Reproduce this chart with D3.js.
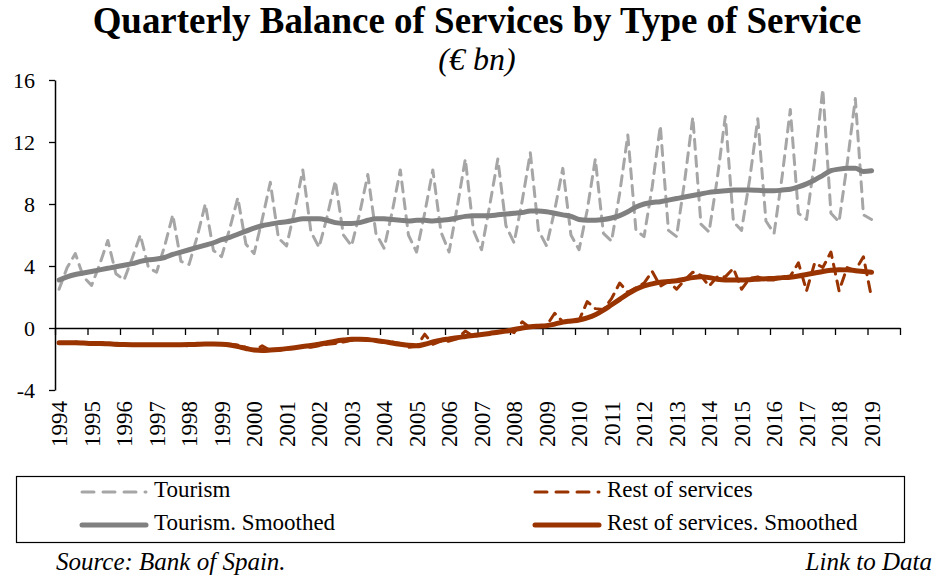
<!DOCTYPE html>
<html><head><meta charset="utf-8">
<script src="https://cdn.jsdelivr.net/npm/d3@7"></script>
<style>
body{margin:0;background:#fff;}
svg text{font-family:"Liberation Serif","Times New Roman",serif;fill:#000;}
</style></head>
<body><svg id="c" width="934" height="577"></svg>
<script>
const years = [1994,1995,1996,1997,1998,1999,2000,2001,2002,2003,2004,2005,2006,2007,2008,2009,2010,2011,2012,2013,2014,2015,2016,2017,2018,2019];
const yTicks = [-4,0,4,8,12,16];
const tourism = [
2.5,3.9,4.8,3.3, 2.75,4.1,5.65,3.5, 3.1,4.5,6.0,3.9, 3.6,5.3,7.3,4.3, 4.1,5.9,8.0,5.0,
4.6,6.4,8.4,5.4, 4.8,7.0,9.4,5.8, 5.3,7.6,10.2,6.2, 5.2,7.2,9.5,6.0, 5.3,7.4,9.9,6.1,
5.15,7.5,10.2,6.0, 4.9,7.4,10.2,6.2, 4.9,7.8,10.9,6.3, 5.05,7.9,10.9,6.6, 5.5,8.2,11.3,6.3,
5.3,7.6,10.3,6.0, 5.05,7.6,10.9,6.1, 5.6,8.7,12.45,6.3, 5.9,9.1,13.05,6.3, 5.9,9.5,13.6,6.7,
6.2,9.6,13.65,6.85, 6.3,9.6,13.5,6.9, 6.1,9.8,14.1,7.4, 7.0,10.8,15.4,7.4, 6.85,10.6,14.8,7.3,
7.0];
const tourismSmoothed = [
3.1,3.3,3.45,3.55, 3.65,3.75,3.85,3.95, 4.05,4.15,4.3,4.4, 4.45,4.55,4.75,4.9, 5.05,5.2,5.35,5.5,
5.7,5.85,6.05,6.25, 6.45,6.6,6.7,6.8, 6.85,6.95,7.05,7.05, 7.05,6.95,6.8,6.75, 6.75,6.8,6.95,7.05,
7.05,7.0,6.95,6.9, 6.95,6.95,6.9,6.95, 7.0,7.1,7.2,7.25, 7.25,7.25,7.3,7.35, 7.4,7.45,7.55,7.55,
7.5,7.4,7.3,7.2, 7.0,6.95,6.95,7.0, 7.1,7.25,7.5,7.8, 8.0,8.1,8.15,8.25, 8.35,8.45,8.55,8.65,
8.75,8.8,8.85,8.9, 8.9,8.9,8.88,8.85, 8.85,8.9,8.95,9.1, 9.3,9.55,9.85,10.15, 10.25,10.3,10.3,10.1,
10.15];
const restOfServices = [
-0.95,-0.95,-0.9,-1.0, -1.0,-0.95,-0.95,-1.1, -1.15,-1.1,-1.05,-1.1, -1.1,-1.1,-1.05,-1.1, -1.15,-1.1,-1.0,-1.05,
-1.0,-1.05,-1.1,-1.25, -1.45,-1.15,-1.45,-1.45, -1.35,-1.3,-1.2,-1.25, -1.15,-1.05,-1.0,-0.9, -0.8,-0.75,-0.7,-0.85,
-0.85,-0.9,-1.0,-1.25, -1.2,-0.4,-1.05,-0.85, -0.85,-0.7,-0.2,-0.55, -0.45,-0.3,-0.3,-0.1, -0.3,0.4,0.0,0.15,
0.15,0.95,0.4,0.5, 0.5,1.7,1.25,1.2, 1.9,2.9,2.3,2.6, 2.9,3.65,2.7,3.0, 2.5,3.1,3.6,3.4,
2.7,3.3,3.3,3.85, 2.5,3.2,3.3,3.1, 3.1,3.3,3.35,4.2, 2.4,4.2,3.9,4.9, 2.4,3.9,3.7,4.6,
1.95];
const restSmoothed = [
-0.95,-0.95,-0.95,-0.97, -1.0,-1.0,-1.02,-1.05, -1.07,-1.08,-1.08,-1.08, -1.08,-1.08,-1.08,-1.08, -1.07,-1.05,-1.03,-1.03,
-1.05,-1.1,-1.2,-1.32, -1.42,-1.45,-1.42,-1.38, -1.33,-1.27,-1.2,-1.12, -1.05,-0.95,-0.85,-0.78, -0.73,-0.72,-0.75,-0.8,
-0.88,-0.97,-1.05,-1.12, -1.15,-1.05,-0.9,-0.78, -0.7,-0.62,-0.55,-0.48, -0.42,-0.35,-0.27,-0.2, -0.1,0.0,0.08,0.12,
0.15,0.25,0.38,0.45, 0.52,0.65,0.85,1.15, 1.5,1.85,2.2,2.5, 2.72,2.85,2.95,3.0, 3.05,3.15,3.25,3.3,
3.25,3.15,3.1,3.1, 3.1,3.12,3.15,3.18, 3.2,3.25,3.28,3.35, 3.45,3.55,3.65,3.72, 3.76,3.75,3.7,3.65,
3.6];
const quarterNames = ["Q1","Q2","Q3","Q4"];
const categories = years.flatMap(y => quarterNames.map(q => y + q));

const C = {tour:"#a6a6a6", tourS:"#808080", rest:"#993300"};
const svg = d3.select("#c");
const L = 55, R = 900;
const x = d3.scaleBand().domain(categories).range([L, R]).padding(0);
const xYear = d3.scaleLinear().domain([years[0], years[years.length-1] + 1]).range([L, R]);
const y = d3.scaleLinear().domain([-4, 16]).range([390, 80]);
const cx = i => x(categories[i]) + x.bandwidth() / 2;

// title
const t = svg.append("text").attr("x", 477).attr("y", 33).attr("text-anchor","middle")
  .style("font-weight","bold").style("font-size","33px").text("Quarterly Balance of Services by Type of Service");
const tw = t.node().getComputedTextLength();
t.style("font-size", (33 * 769 / tw) + "px");
svg.append("text").attr("x", 477).attr("y", 70).attr("text-anchor","middle")
  .style("font-style","italic").style("font-size","32px").text("(€ bn)");

// y axis
const ya = svg.append("g").attr("transform", `translate(${L},0)`)
  .call(d3.axisLeft(y).tickValues(yTicks).tickSize(6).tickSizeOuter(0).tickFormat(d => String(d)));
ya.select(".domain").attr("stroke","#000").attr("stroke-width",1.5);
ya.selectAll(".tick line").attr("stroke","#000").attr("stroke-width",1.3);
ya.selectAll(".tick text").attr("x",-20).style("font-size","22px").style("font-family","Liberation Serif, serif");

// x axis at zero
const xa = svg.append("g").attr("transform", `translate(0,${y(0)})`)
  .call(d3.axisBottom(xYear).tickValues(d3.range(years[0], years[years.length-1] + 2)).tickSize(7).tickSizeOuter(0).tickFormat(""));
xa.select(".domain").attr("stroke","#000").attr("stroke-width",1.5);
xa.selectAll(".tick line").attr("stroke","#000").attr("stroke-width",1.3);

// x labels
svg.append("g").selectAll("text").data(years).join("text")
  .attr("transform", d => `translate(${x(d + "Q1") + x.bandwidth()/2 + 3},401) rotate(-90)`)
  .attr("text-anchor","end").attr("dominant-baseline","middle")
  .style("font-size","23px").text(d => d);

// lines
const lineStraight = d3.line().x((d,i) => cx(i)).y(d => y(d));
const lineSmooth = d3.line().x((d,i) => cx(i)).y(d => y(d)).curve(d3.curveMonotoneX);
const plot = svg.append("g");
plot.append("path").datum(tourism).attr("d", lineStraight).attr("fill","none")
  .attr("stroke", C.tour).attr("stroke-width", 3).attr("stroke-dasharray","10,7").attr("stroke-linecap","round").attr("stroke-linejoin","round");
plot.append("path").datum(restOfServices).attr("d", lineStraight).attr("fill","none")
  .attr("stroke", C.rest).attr("stroke-width", 3).attr("stroke-dasharray","10,7").attr("stroke-linecap","round").attr("stroke-linejoin","round");
plot.append("path").datum(tourismSmoothed).attr("d", lineSmooth).attr("fill","none")
  .attr("stroke", C.tourS).attr("stroke-width", 5).attr("stroke-linecap","round").attr("stroke-linejoin","round");
plot.append("path").datum(restSmoothed).attr("d", lineSmooth).attr("fill","none")
  .attr("stroke", C.rest).attr("stroke-width", 5).attr("stroke-linecap","round").attr("stroke-linejoin","round");

// legend
svg.append("rect").attr("x",16.5).attr("y",476.5).attr("width",888).attr("height",66)
  .attr("fill","none").attr("stroke","#000").attr("stroke-width",1.2);
const legendItems = [
  {name:"Tourism", color:C.tour, dash:"12,9", w:3, lx:82, ly:492},
  {name:"Rest of services", color:C.rest, dash:"12,9", w:3, lx:535, ly:492},
  {name:"Tourism. Smoothed", color:C.tourS, dash:null, w:5, lx:82, ly:525},
  {name:"Rest of services. Smoothed", color:C.rest, dash:null, w:5, lx:535, ly:525}
];
const lg = svg.append("g").selectAll("g").data(legendItems).join("g");
lg.append("line").attr("x1", d => d.lx).attr("x2", d => d.lx + 64).attr("y1", d => d.ly).attr("y2", d => d.ly)
  .attr("stroke", d => d.color).attr("stroke-width", d => d.w).attr("stroke-dasharray", d => d.dash)
  .attr("stroke-linecap","round");
lg.append("text").attr("x", d => d.lx + 72).attr("y", d => d.ly).attr("dominant-baseline","middle")
  .style("font-size","23px").text(d => d.name);

// footer
svg.append("text").attr("x",56).attr("y",570).style("font-style","italic").style("font-size","25px").text("Source: Bank of Spain.");
svg.append("text").attr("x",932).attr("y",570).attr("text-anchor","end").style("font-style","italic").style("font-size","25px").text("Link to Data");
</script></body></html>
